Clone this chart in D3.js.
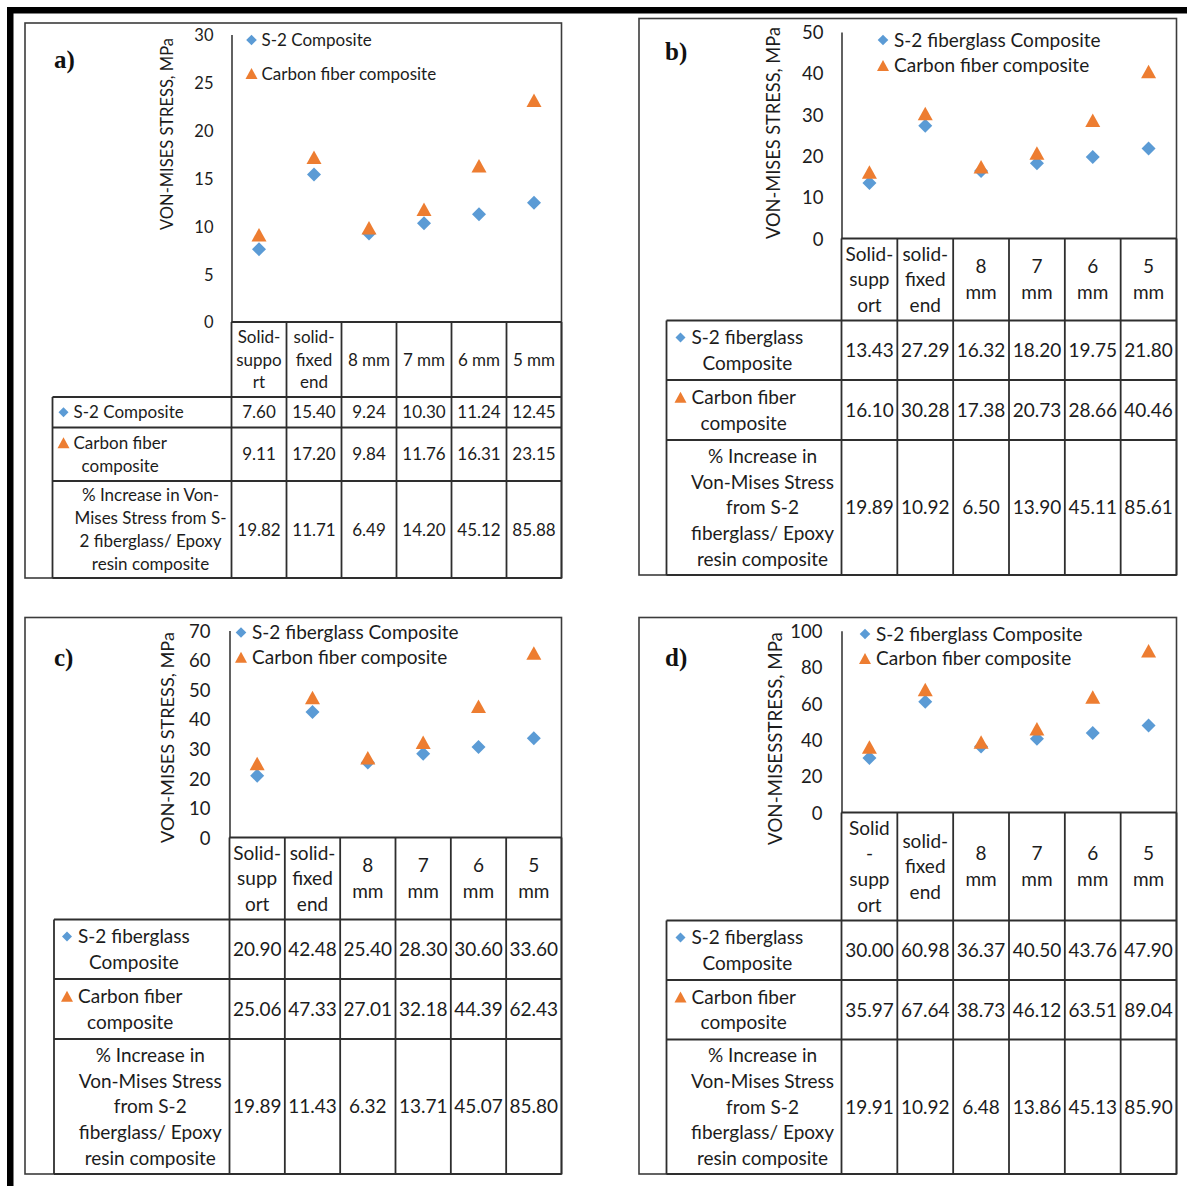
<!DOCTYPE html>
<html>
<head>
<meta charset="utf-8">
<script src="https://cdn.jsdelivr.net/npm/d3@7"></script>
<style>
  html, body { margin: 0; padding: 0; background: #fff; }
  svg { display: block; }
</style>
</head>
<body>
<svg id="fig" width="1187" height="1186"></svg>
<script>
// ---------- data ----------
// category headings, already broken into the lines shown in each table
const headerA   = [["Solid-","suppo","rt"],["solid-","fixed","end"],["8 mm"],["7 mm"],["6 mm"],["5 mm"]];
const headerBC  = [["Solid-","supp","ort"],["solid-","fixed","end"],["8","mm"],["7","mm"],["6","mm"],["5","mm"]];
const headerD   = [["Solid","-","supp","ort"],["solid-","fixed","end"],["8","mm"],["7","mm"],["6","mm"],["5","mm"]];

const legendA   = ["S-2 Composite", "Carbon fiber composite"];
const legendBCD = ["S-2 fiberglass Composite", "Carbon fiber composite"];

const rowLabelsA   = [["S-2 Composite"], ["Carbon fiber","composite"],
                      ["% Increase in Von-","Mises Stress from S-","2 fiberglass/ Epoxy","resin composite"]];
const rowLabelsBCD = [["S-2 fiberglass","Composite"], ["Carbon fiber","composite"],
                      ["% Increase in","Von-Mises Stress","from S-2","fiberglass/ Epoxy","resin composite"]];

const yTitleABC = "VON-MISES STRESS, MPa";
const yTitleD   = "VON-MISESSTRESS, MPa";

const ticksA = [0, 5, 10, 15, 20, 25, 30];
const ticksB = [0, 10, 20, 30, 40, 50];
const ticksC = [0, 10, 20, 30, 40, 50, 60, 70];
const ticksD = [0, 20, 40, 60, 80, 100];

// von Mises stress, MPa
const s2A = [7.60, 15.40, 9.24, 10.30, 11.24, 12.45];
const cfA = [9.11, 17.20, 9.84, 11.76, 16.31, 23.15];
const incA = [19.82, 11.71, 6.49, 14.20, 45.12, 85.88];

const s2B = [13.43, 27.29, 16.32, 18.20, 19.75, 21.80];
const cfB = [16.10, 30.28, 17.38, 20.73, 28.66, 40.46];
const incB = [19.89, 10.92, 6.50, 13.90, 45.11, 85.61];

const s2C = [20.90, 42.48, 25.40, 28.30, 30.60, 33.60];
const cfC = [25.06, 47.33, 27.01, 32.18, 44.39, 62.43];
const incC = [19.89, 11.43, 6.32, 13.71, 45.07, 85.80];

const s2D = [30.00, 60.98, 36.37, 40.50, 43.76, 47.90];
const cfD = [35.97, 67.64, 38.73, 46.12, 63.51, 89.04];
const incD = [19.91, 10.92, 6.48, 13.86, 45.13, 85.90];

// ---------- styling ----------
const BLUE = "#5B9BD5", ORANGE = "#ED7D31", INK = "#1c1c1c", LINE = "#2e2e2e";
const FONT = "Lato, 'Open Sans', sans-serif";

const diamond  = r => `M0,${-r}L${r},0L0,${r}L${-r},0Z`;
const triangle = (w, h) => `M0,${-h/2}L${w/2},${h/2}L${-w/2},${h/2}Z`;

const svg = d3.select("#fig");

// heavy page rules along the top and left edge
svg.append("rect").attr("x", 7).attr("y", 7).attr("width", 1180).attr("height", 6.5).attr("fill", "#000");
svg.append("rect").attr("x", 7).attr("y", 7).attr("width", 6.5).attr("height", 1179).attr("fill", "#000");

function textAt(g, str, x, y, size, anchor) {
  return g.append("text")
    .attr("x", x).attr("y", y).attr("dy", "0.36em")
    .attr("text-anchor", anchor || "start")
    .attr("font-family", FONT).attr("font-size", size).attr("fill", INK)
    .text(str);
}

function multiline(g, lines, cx, cy, lh, size) {
  const n = lines.length;
  lines.forEach((ln, k) => textAt(g, ln, cx, cy + (k - (n - 1) / 2) * lh, size, "middle"));
}

function drawPanel(p) {
  const g = svg.append("g");
  const [bx0, by0, bx1, by1] = p.box;

  const y = d3.scaleLinear().domain([0, d3.max(p.ticks)]).range([p.yBottom, p.yTop]);
  const x = d3.scaleBand().domain(d3.range(p.header.length)).range([p.axisX, bx1]).padding(0);
  const bw = x.bandwidth();

  // panel frame
  g.append("rect")
    .attr("x", bx0).attr("y", by0).attr("width", bx1 - bx0).attr("height", by1 - by0)
    .attr("fill", "none").attr("stroke", "#3c3c3c").attr("stroke-width", 1.6);

  // panel letter
  g.append("text")
    .attr("x", p.label.x).attr("y", p.label.y).attr("dy", "0.35em")
    .attr("font-family", "'Liberation Serif', 'Times New Roman', serif")
    .attr("font-weight", "bold").attr("font-size", 25).attr("fill", "#111")
    .text(p.letter);

  // value axis
  const ax = g.append("g")
    .attr("transform", `translate(${p.axisX},0)`)
    .call(d3.axisLeft(y).tickValues(p.ticks).tickSize(0).tickSizeOuter(0).tickPadding(p.tickPad));
  ax.attr("font-family", null).attr("font-size", null);
  ax.select(".domain").attr("stroke", "#3a3a3a").attr("stroke-width", 1.6);
  ax.selectAll(".tick text")
    .attr("font-family", FONT).attr("font-size", p.tickFont).attr("fill", INK).attr("dy", "0.36em");

  // rotated axis title, sized to its span
  const title = g.append("text")
    .attr("transform", `translate(${p.titleX},${p.titleCY}) rotate(-90)`)
    .attr("text-anchor", "middle").attr("dy", "0.36em")
    .attr("font-family", FONT).attr("font-size", 16).attr("fill", INK)
    .text(p.title);
  const len = title.node().getComputedTextLength();
  title.attr("font-size", 16 * p.titleLen / len);

  // legend
  p.legend.forEach((name, k) => {
    const ly = p.legendY[k];
    g.append("path")
      .attr("transform", `translate(${p.legendX},${ly})`)
      .attr("d", k === 0 ? diamond(5.3) : triangle(12, 11))
      .attr("fill", k === 0 ? BLUE : ORANGE);
    textAt(g, name, p.legendX + p.legendGap, ly, p.font);
  });

  // markers: S-2 first, carbon on top
  g.selectAll(".s2").data(p.s2).join("path")
    .attr("transform", (d, i) => `translate(${x(i) + bw / 2},${y(d)})`)
    .attr("d", diamond(7)).attr("fill", BLUE);
  g.selectAll(".cf").data(p.cf).join("path")
    .attr("transform", (d, i) => `translate(${x(i) + bw / 2},${y(d)})`)
    .attr("d", triangle(15, 13.5)).attr("fill", ORANGE);

  // data table grid
  const rows = p.rowY;               // top of each body row, plus bottom edge
  const grid = g.append("g").attr("stroke", LINE).attr("stroke-width", 1.8).attr("fill", "none");
  grid.append("line").attr("x1", p.axisX).attr("x2", bx1).attr("y1", p.yBottom).attr("y2", p.yBottom);
  rows.forEach(ry => grid.append("line").attr("x1", p.tableLeft).attr("x2", bx1).attr("y1", ry).attr("y2", ry));
  grid.append("line").attr("x1", p.tableLeft).attr("x2", p.tableLeft).attr("y1", rows[0]).attr("y2", rows[3]);
  d3.range(p.header.length).forEach(i => {
    grid.append("line").attr("x1", x(i)).attr("x2", x(i)).attr("y1", p.yBottom).attr("y2", rows[3]);
  });
  grid.append("line").attr("x1", bx1).attr("x2", bx1).attr("y1", p.yBottom).attr("y2", rows[3]);

  // category headings
  p.header.forEach((lines, i) => {
    multiline(g, lines, x(i) + bw / 2, (p.yBottom + rows[0]) / 2, p.lineH, p.font);
  });

  // table body values
  [p.s2, p.cf, p.inc].forEach((vals, r) => {
    const cy = (rows[r] + rows[r + 1]) / 2;
    vals.forEach((v, i) => textAt(g, v.toFixed(2), x(i) + bw / 2, cy, p.font, "middle"));
  });

  // row labels with legend keys
  p.rowLabels.forEach((lines, r) => {
    const cy = (rows[r] + rows[r + 1]) / 2;
    const n = lines.length;
    const y0 = cy - (n - 1) / 2 * p.lineH;
    if (r < 2) {
      g.append("path")
        .attr("transform", `translate(${p.tableLeft + p.keyDx},${y0})`)
        .attr("d", r === 0 ? diamond(5) : triangle(12, 11))
        .attr("fill", r === 0 ? BLUE : ORANGE);
      const first = textAt(g, lines[0], p.tableLeft + p.textDx, y0, p.font);
      const cx = p.tableLeft + p.textDx + first.node().getComputedTextLength() / 2;
      lines.slice(1).forEach((ln, k) => textAt(g, ln, cx, y0 + (k + 1) * p.lineH, p.font, "middle"));
    } else {
      multiline(g, lines, (p.tableLeft + p.axisX) / 2 + 8.5, cy, p.lineH, p.font);
    }
  });
}

const panels = [
  { letter: "a)", header: headerA, legend: legendA, rowLabels: rowLabelsA, title: yTitleABC,
    ticks: ticksA, s2: s2A, cf: cfA, inc: incA,
    box: [25, 23, 561.5, 578], axisX: 231.5, yTop: 34.5, yBottom: 322,
    tableLeft: 52.5, rowY: [397, 427.5, 481, 578],
    font: 17, tickFont: 16.5, tickPad: 18, lineH: 22.8,
    titleX: 167, titleCY: 134, titleLen: 192,
    legendX: 251.5, legendY: [40, 73.5], legendGap: 10,
    keyDx: 11, textDx: 21, label: { x: 54, y: 59 } },
  { letter: "b)", header: headerBC, legend: legendBCD, rowLabels: rowLabelsBCD, title: yTitleABC,
    ticks: ticksB, s2: s2B, cf: cfB, inc: incB,
    box: [639, 18.5, 1176.5, 575], axisX: 841.5, yTop: 32, yBottom: 238.5,
    tableLeft: 666.5, rowY: [320.5, 380, 440, 575],
    font: 19, tickFont: 18.5, tickPad: 18, lineH: 25.7,
    titleX: 773, titleCY: 133, titleLen: 212,
    legendX: 883, legendY: [40, 65.5], legendGap: 11,
    keyDx: 14, textDx: 25, label: { x: 665, y: 51.5 } },
  { letter: "c)", header: headerBC, legend: legendBCD, rowLabels: rowLabelsBCD, title: yTitleABC,
    ticks: ticksC, s2: s2C, cf: cfC, inc: incC,
    box: [25, 617.5, 561.5, 1174], axisX: 229.5, yTop: 630.5, yBottom: 837.5,
    tableLeft: 54, rowY: [919.5, 979, 1039, 1174],
    font: 19, tickFont: 18.5, tickPad: 19, lineH: 25.7,
    titleX: 167, titleCY: 737.5, titleLen: 211,
    legendX: 241, legendY: [632.5, 657.2], legendGap: 11,
    keyDx: 13, textDx: 24, label: { x: 54, y: 657 } },
  { letter: "d)", header: headerD, legend: legendBCD, rowLabels: rowLabelsBCD, title: yTitleD,
    ticks: ticksD, s2: s2D, cf: cfD, inc: incD,
    box: [639, 617.5, 1176.5, 1174], axisX: 841.5, yTop: 630.7, yBottom: 812.5,
    tableLeft: 666.5, rowY: [920.5, 980, 1039.5, 1174],
    font: 19, tickFont: 18.5, tickPad: 19, lineH: 25.7,
    titleX: 775, titleCY: 738.5, titleLen: 213,
    legendX: 865, legendY: [634, 658.5], legendGap: 11,
    keyDx: 14, textDx: 25, label: { x: 665, y: 657 } }
];

panels.forEach(drawPanel);
</script>
</body>
</html>
